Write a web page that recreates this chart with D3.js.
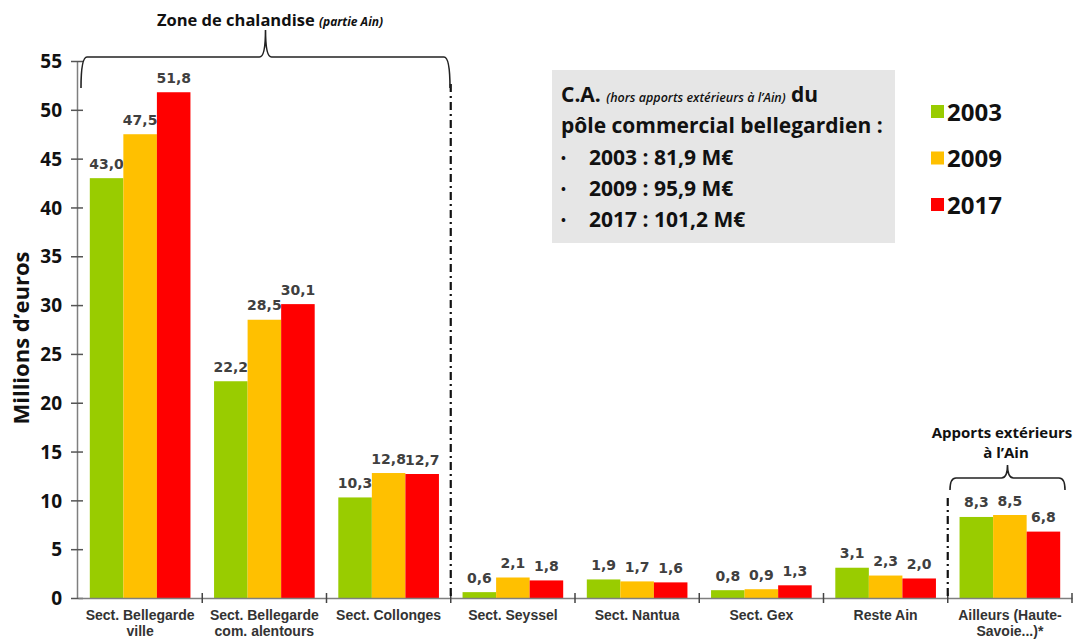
<!DOCTYPE html>
<html>
<head>
<meta charset="utf-8">
<script src="https://cdn.jsdelivr.net/npm/d3@7"></script>
<style>
  body { margin: 0; background: #fff; }
  svg text { font-family: "Open Sans", Lato, sans-serif; }
</style>
</head>
<body>
<svg id="chart" width="1083" height="640"></svg>
<script>
// categories (multi-line labels split by "|")
var categories = ["Sect. Bellegarde|ville", "Sect. Bellegarde|com. alentours", "Sect. Collonges",
  "Sect. Seyssel", "Sect. Nantua", "Sect. Gex", "Reste Ain", "Ailleurs (Haute-|Savoie...)*"];
var years = ["2003", "2009", "2017"];
var v2003 = [43.0, 22.2, 10.3, 0.6, 1.9, 0.8, 3.1, 8.3];
var v2009 = [47.5, 28.5, 12.8, 2.1, 1.7, 0.9, 2.3, 8.5];
var v2017 = [51.8, 30.1, 12.7, 1.8, 1.6, 1.3, 2.0, 6.8];
var colors = ["#99cc00", "#ffc000", "#ff0000"];
var yTicks = [0, 5, 10, 15, 20, 25, 30, 35, 40, 45, 50, 55];
var boxLines = ["2003 : 81,9 M€", "2009 : 95,9 M€", "2017 : 101,2 M€"];

var series = [v2003, v2009, v2017];
var svg = d3.select("#chart");

var x = d3.scaleBand().domain(categories).range([78, 1072]).padding(0);
var xs = d3.scaleBand().domain(years).range([0, x.bandwidth() * 0.81]);
var groupOff = (x.bandwidth() - xs.range()[1]) / 2;
var y = d3.scaleLinear().domain([0, 55]).range([598, 61]);

var fmt = function(v){ return d3.format(".1f")(v).replace(".", ","); };

// bars
var groups = svg.append("g").selectAll("g").data(categories).enter().append("g")
  .attr("transform", function(d){ return "translate(" + (x(d) + groupOff) + ",0)"; });

years.forEach(function(yr, k){
  groups.append("rect")
    .attr("x", xs(yr))
    .attr("width", xs.bandwidth())
    .attr("y", function(d, i){ return y(series[k][i]); })
    .attr("height", function(d, i){ return y(0) - y(series[k][i]); })
    .attr("fill", colors[k]);
  groups.append("text")
    .text(function(d, i){ return fmt(series[k][i]); })
    .attr("x", xs(yr) + xs.bandwidth() / 2)
    .attr("y", function(d, i){ return y(series[k][i]) - 9.5; })
    .attr("text-anchor", "middle")
    .style("font-family", "'DejaVu Sans', sans-serif")
    .style("font-weight", "bold")
    .style("font-size", "14px")
    .attr("fill", "#404040");
});

// y axis
var yAxis = svg.append("g").attr("transform", "translate(77,0)")
  .call(d3.axisLeft(y).tickValues(yTicks).tickSize(6).tickSizeOuter(0));
yAxis.select(".domain").attr("stroke", "#7f7f7f").attr("stroke-width", 1.5);
yAxis.selectAll(".tick line").attr("x2", 6).attr("x1", -6).attr("stroke", "#555").attr("stroke-width", 1.5);
yAxis.selectAll(".tick text").attr("x", -15).attr("dy", "0.35em")
  .style("font-family", "'Open Sans', sans-serif").style("font-size", "19px").style("font-weight", "bold").attr("fill", "#111");

// x axis
var xAxis = svg.append("g").attr("transform", "translate(0,598)")
  .call(d3.axisBottom(x).tickSize(0).tickSizeOuter(0).tickFormat(""));
xAxis.select(".domain").attr("stroke", "#7f7f7f").attr("stroke-width", 1.5);
var bounds = categories.map(function(c){ return x(c); }).concat([x.range()[1]]).slice(1);
xAxis.selectAll("line.sep").data(bounds).enter().append("line").attr("class", "sep")
  .attr("x1", function(d){ return d; }).attr("x2", function(d){ return d; })
  .attr("y1", -5).attr("y2", 5).attr("stroke", "#444").attr("stroke-width", 1.5);

var labels = xAxis.selectAll("text.cat").data(categories).enter().append("text").attr("class", "cat")
  .attr("text-anchor", "middle")
  .attr("transform", function(d){ return "translate(" + (x(d) + x.bandwidth() / 2) + ",22)"; })
  .style("font-family", "'Liberation Sans', Arial, sans-serif")
  .style("font-weight", "bold").style("font-size", "14px").attr("fill", "#333");
labels.selectAll("tspan").data(function(d){ return d.split("|"); }).enter().append("tspan")
  .attr("x", 0).attr("dy", function(d, i){ return i ? 16 : 0; })
  .text(function(d){ return d; });

// y axis title
svg.append("text").text("Millions d’euros")
  .attr("transform", "translate(29,338) rotate(-90)")
  .attr("text-anchor", "middle")
  .style("font-size", "22px").style("font-weight", "bold").attr("fill", "#111");

// dash-dot separators
function dashDot(xp, y1) {
  svg.append("line").attr("x1", xp).attr("x2", xp).attr("y1", y1).attr("y2", y(0))
    .attr("stroke", "#111").attr("stroke-width", 2.2).attr("stroke-dasharray", "8,4,2,4");
}
dashDot(x(categories[3]), 84);
dashDot(x(categories[7]), 498);

// curly brace
function brace(x1, x2, yb, yEnd, yTip) {
  var xm = (x1 + x2) / 2, r = 6;
  var p = "M" + x1 + "," + yEnd + " Q" + x1 + "," + yb + " " + (x1 + r) + "," + yb +
    " L" + (xm - r) + "," + yb + " Q" + xm + "," + yb + " " + xm + "," + yTip +
    " Q" + xm + "," + yb + " " + (xm + r) + "," + yb +
    " L" + (x2 - r) + "," + yb + " Q" + x2 + "," + yb + " " + x2 + "," + yEnd;
  svg.append("path").attr("d", p).attr("fill", "none").attr("stroke", "#222").attr("stroke-width", 1.6);
}
brace(81, 450, 57, 88, 30);
brace(950, 1065, 478, 490, 465);

// zone title
var t1 = svg.append("text").attr("x", 270).attr("y", 26).attr("text-anchor", "middle")
  .attr("fill", "#111").style("font-weight", "bold").style("font-size", "16.5px");
t1.append("tspan").text("Zone de chalandise ");
t1.append("tspan").text("(partie Ain)").style("font-style", "italic").style("font-size", "12px");

var t2 = svg.append("text").attr("text-anchor", "middle").attr("fill", "#111")
  .style("font-weight", "bold").style("font-size", "15px");
t2.append("tspan").attr("x", 1002).attr("y", 438).text("Apports extérieurs");
t2.append("tspan").attr("x", 1006).attr("y", 458).text("à l’Ain");

// info box
svg.append("rect").attr("x", 552).attr("y", 70).attr("width", 343).attr("height", 173).attr("fill", "#e6e6e6");
var l1 = svg.append("text").attr("x", 561).attr("y", 102).attr("fill", "#111").style("font-weight", "bold").style("font-size", "21px");
l1.append("tspan").text("C.A. ");
l1.append("tspan").text("(hors apports extérieurs à l’Ain)").style("font-style", "italic").style("font-weight", "600").style("font-size", "12.5px");
l1.append("tspan").text(" du");
svg.append("text").attr("x", 561).attr("y", 133).attr("fill", "#111").style("font-weight", "bold").style("font-size", "21px")
  .text("pôle commercial bellegardien :");
svg.selectAll("text.bl").data(boxLines).enter().append("text").attr("class", "bl")
  .attr("y", function(d, i){ return 165 + i * 31; }).attr("fill", "#111")
  .style("font-weight", "bold").style("font-size", "21px")
  .each(function(d){
    d3.select(this).append("tspan").attr("x", 561).attr("dy", -2).style("font-size", "13px").text("•");
    d3.select(this).append("tspan").attr("x", 589).attr("dy", 2).text(d);
  });

// legend
var leg = svg.selectAll("g.leg").data(years).enter().append("g").attr("class", "leg")
  .attr("transform", function(d, i){ return "translate(931," + (112 + i * 46.5) + ")"; });
leg.append("rect").attr("x", 0).attr("y", -7).attr("width", 13).attr("height", 13)
  .attr("fill", function(d, i){ return colors[i]; });
leg.append("text").attr("x", 16).attr("dy", "0.36em").text(function(d){ return d; })
  .attr("fill", "#111").style("font-weight", "bold").style("font-size", "24px");
</script>
</body>
</html>
